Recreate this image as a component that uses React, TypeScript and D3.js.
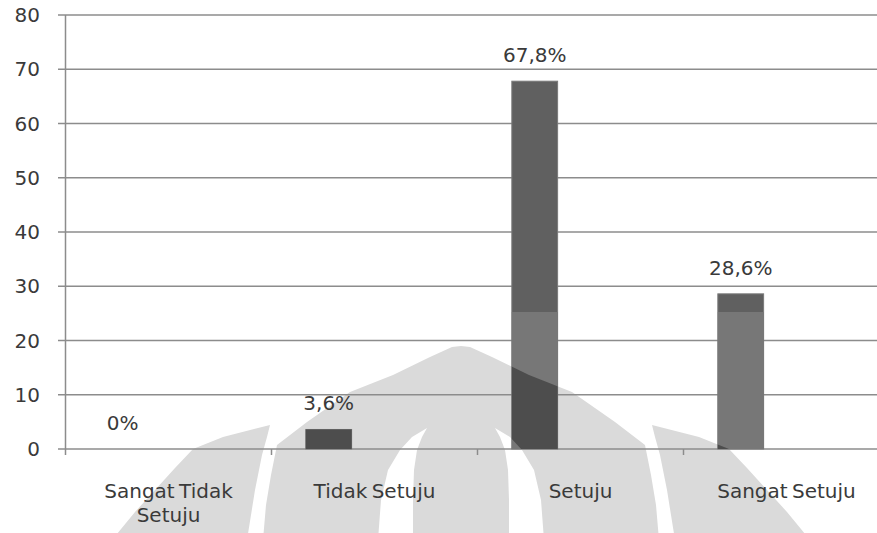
import React from "react";
import * as d3 from "d3";

// Survey answers and their shares (percent)
const categories = ["Sangat Tidak Setuju", "Tidak Setuju", "Setuju", "Sangat Setuju"];
const categoryLines = [["Sangat Tidak", "Setuju"], ["Tidak Setuju"], ["Setuju"], ["Sangat Setuju"]];
const percentages = [0, 3.6, 67.8, 28.6];
const valueLabels = ["0%", "3,6%", "67,8%", "28,6%"];
const yTicks = [0, 10, 20, 30, 40, 50, 60, 70, 80];

const W = 877;
const H = 533;
const FONT = "'DejaVu Sans', sans-serif";
const FS = 20;

// Page-watermark (emblem) outline, half shapes mirrored about AXIS
const AXIS = 461;
const domeHalf: [number, number][] = [
  [263, 540], [266, 505], [271, 475], [277, 445], [307, 422], [350, 392],
  [393, 375], [430, 357], [452, 347], [461, 346],
];
const crescentLeft: [number, number][] = [
  [427, 428], [412, 437], [400, 450], [388, 470], [381, 500], [378, 540],
  [413, 540], [413, 500], [414, 470], [417, 450], [422, 437],
];
const wingLeft: [number, number][] = [
  [193, 449], [223, 437], [270, 425], [267, 437], [262, 455], [255, 490],
  [247, 540], [112, 540], [135, 512], [155, 490], [175, 468],
];

const mirror = (pts: [number, number][]) => pts.map(([x, y]) => [2 * AXIS - x, y] as [number, number]);
const poly = (pts: [number, number][]) => "M" + pts.map((p) => p.join(",")).join("L") + "Z";

const domePath = poly([...domeHalf, ...mirror(domeHalf).reverse()]);
const crescentPaths = [poly(crescentLeft), poly(mirror(crescentLeft))];
const wingPaths = [poly(wingLeft), poly(mirror(wingLeft))];
const watermarkTop = 312;

export default function App() {
  const left = 65.5;
  const right = 889.5;
  const top = 15;
  const bottom = 449;

  const x = d3.scaleBand<string>().domain(categories).range([left, right]).paddingInner(0).paddingOuter(0);
  const slot = d3.scaleBand<string>().domain(["0", "1", "2"]).range([0, x.bandwidth()]).paddingInner(0).paddingOuter(0.75);
  const y = d3.scaleLinear().domain([0, 80]).range([bottom, top]);
  const bw = slot.bandwidth();

  const bars = categories.map((c, i) => ({
    key: c,
    x: (x(c) as number) + (slot("0") as number),
    y: y(percentages[i]),
    h: y(0) - y(percentages[i]),
  }));

  const barRects = (fill: string, stroke?: string) =>
    bars.map((b) =>
      b.h > 0 ? (
        <rect key={b.key} x={b.x} y={b.y} width={bw} height={b.h} fill={fill} stroke={stroke} strokeWidth={stroke ? 1 : 0} />
      ) : null
    );

  return (
    <svg width={W} height={H} style={{ position: "absolute", left: 0, top: 0, background: "#fff" }} fontFamily={FONT}>
      <defs>
        <clipPath id="wmBox">
          <rect x={0} y={watermarkTop} width={W} height={H - watermarkTop} />
        </clipPath>
        <clipPath id="wmShape">
          <path d={domePath + crescentPaths.join("") + wingPaths.join("")} clipRule="evenodd" />
        </clipPath>
      </defs>
      <rect width={W} height={H} fill="#fff" />

      {/* watermark emblem */}
      <g>
        <path d={domePath} fill="#dadada" />
        {crescentPaths.map((d, i) => (
          <path key={i} d={d} fill="#fff" />
        ))}
        {wingPaths.map((d, i) => (
          <path key={i} d={d} fill="#dadada" />
        ))}
      </g>

      {/* horizontal gridlines with left tick stubs */}
      {yTicks.map((t) => (
        <line key={t} x1={58} x2={W} y1={y(t)} y2={y(t)} stroke="#8c8c8c" strokeWidth={1.5} />
      ))}
      {/* y axis line */}
      <line x1={left} x2={left} y1={top} y2={bottom + 6} stroke="#8c8c8c" strokeWidth={1.5} />
      {/* category separators */}
      {categories.slice(1).map((c) => (
        <line key={c} x1={x(c) as number} x2={x(c) as number} y1={bottom} y2={bottom + 6} stroke="#8c8c8c" strokeWidth={1.5} />
      ))}

      {/* bars */}
      <g>{barRects("#606060", "#7a7a7a")}</g>
      <g clipPath="url(#wmBox)">{barRects("#777777")}</g>
      <g clipPath="url(#wmShape)">{barRects("#4d4d4d")}</g>

      {/* y tick labels */}
      {yTicks.map((t) => (
        <text key={t} x={40} y={y(t)} dy="0.36em" textAnchor="end" fontSize={FS} fill="#3a3a3a">
          {t}
        </text>
      ))}

      {/* value labels */}
      {bars.map((b, i) => (
        <text key={b.key} x={b.x + bw / 2} y={b.y - 19} textAnchor="middle" fontSize={FS} fill="#3a3a3a">
          {valueLabels[i]}
        </text>
      ))}

      {/* category labels */}
      {categories.map((c, i) => (
        <text key={c} x={(x(c) as number) + x.bandwidth() / 2} y={498} textAnchor="middle" fontSize={FS} fill="#3a3a3a" wordSpacing={-2}>
          {categoryLines[i].map((ln, j) => (
            <tspan key={j} x={(x(c) as number) + x.bandwidth() / 2} dy={j === 0 ? 0 : 23.5}>
              {ln}
            </tspan>
          ))}
        </text>
      ))}
    </svg>
  );
}
